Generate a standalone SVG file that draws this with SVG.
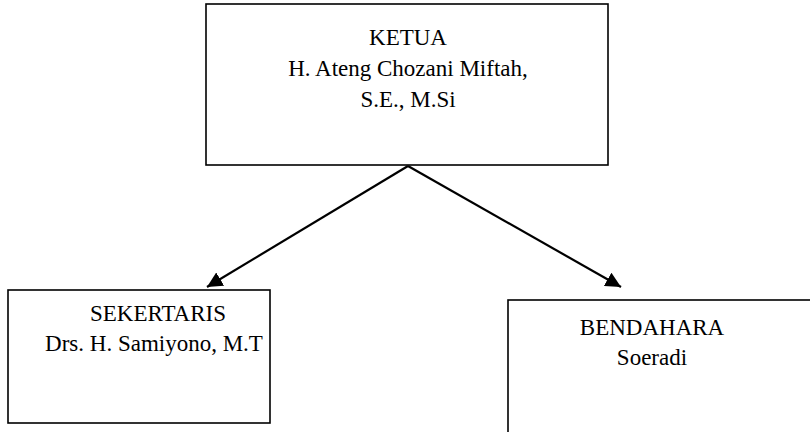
<svg xmlns="http://www.w3.org/2000/svg" width="810" height="432" viewBox="0 0 810 432">
<style>
.box{fill:#fff;stroke:#000;stroke-width:1.6}
.t{font-family:"Liberation Serif","Times New Roman",serif;font-size:23px;fill:#000;text-anchor:middle}
.conn{stroke:#000;stroke-width:2.2;fill:none}
</style>
<defs>
<marker id="ah" viewBox="0 0 10 10" refX="10" refY="5" markerWidth="7" markerHeight="7" markerUnits="strokeWidth" orient="auto">
<path d="M0,0 L10,5 L0,10 z" fill="#000"/>
</marker>
</defs>
<rect width="810" height="432" fill="#fff"/>
<g id="ketua">
<rect class="box" x="206" y="4" width="402" height="161"/>
<text class="t" x="408" y="45">KETUA</text>
<text class="t" x="408" y="76">H. Ateng Chozani Miftah,</text>
<text class="t" x="408" y="107">S.E., M.Si</text>
</g>
<g id="sekertaris">
<rect class="box" x="8" y="290" width="262" height="133"/>
<text class="t" x="158" y="321">SEKERTARIS</text>
<text class="t" x="154" y="351">Drs. H. Samiyono, M.T</text>
</g>
<g id="bendahara">
<rect class="box" x="508" y="300" width="320" height="150"/>
<text class="t" x="652" y="335">BENDAHARA</text>
<text class="t" x="652" y="365">Soeradi</text>
</g>
<g id="connectors">
<line class="conn" x1="408" y1="166" x2="207" y2="287" marker-end="url(#ah)"/>
<line class="conn" x1="408" y1="166" x2="621" y2="287" marker-end="url(#ah)"/>
</g>
</svg>
